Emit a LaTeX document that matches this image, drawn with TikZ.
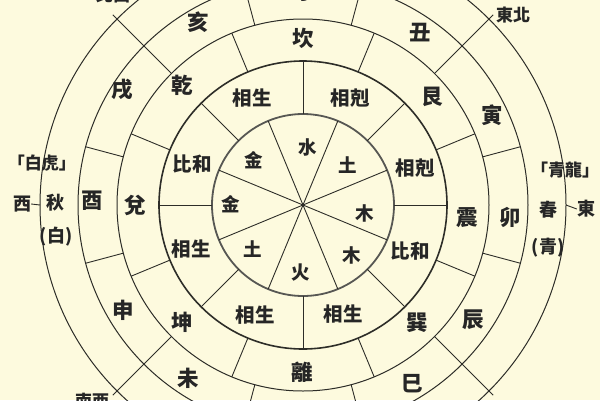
\documentclass[tikz,border=0pt]{standalone}
\usepackage{fontspec}
\newfontfamily\cjk{Noto Sans CJK TC}
\definecolor{bg}{RGB}{253,250,222}
\definecolor{ln}{RGB}{45,45,40}
\begin{document}
\begin{tikzpicture}[x=1pt,y=1pt,
  elem/.style={font=\cjk\bfseries\fontsize{18.5}{18.5}\selectfont, inner sep=0pt, text=black!85},
  rel/.style={font=\cjk\bfseries\fontsize{19.5}{19.5}\selectfont, inner sep=0pt, text=black!85},
  gua/.style={font=\cjk\bfseries\fontsize{21.5}{21.5}\selectfont, inner sep=0pt, text=black!85},
  season/.style={font=\cjk\bfseries\fontsize{18}{18}\selectfont, inner sep=0pt, text=black!85},
  outer/.style={font=\cjk\bfseries\fontsize{17}{17}\selectfont, inner sep=0pt, text=black!85},
  cz/.style={draw=ln!80, line width=1.8pt},
  co/.style={draw=ln, line width=1.6pt},
  cr/.style={draw=ln, line width=1pt},
  div/.style={draw=ln, line width=0.9pt}]
\useasboundingbox (0,0) rectangle (600,-400);
\fill[bg] (0,0) rectangle (600,-400);
\begin{scope}
\clip (0,0) rectangle (600,-400);
\begin{scope}[shift={(303,-205)}]
  \coordinate (O) at (0,0);
  \draw[cz] (O) circle[radius=91];
  \draw[co] (O) circle[radius=144];
  \draw[cr] (O) circle[radius=186];
  \draw[cr] (O) circle[radius=225];
  \draw[cr] (O) circle[radius=263];
  \foreach \a in {22.5,67.5,...,337.5} \draw[div] (O) -- (\a:91);
  \foreach \a in {0,45,...,315} \draw[div] (\a:91) -- (\a:144);
  \foreach \a in {22.5,67.5,...,337.5} \draw[div] (\a:144) -- (\a:186);
  \foreach \a in {15,75,105,165,195,255,285,345} \draw[div] (\a:186) -- (\a:225);
  \foreach \a in {45,135,225,315} \draw[div] (\a:186) -- (\a:269);
  \coordinate (w4) at (180:263);
  \coordinate (e4) at (0:263);
\end{scope}
% elements
\node[elem] (el1) at (308,-147) {水};
\node[elem] (el2) at (348,-165) {土};
\node[elem] (el3) at (365,-213) {木};
\node[elem] (el4) at (352,-255) {木};
\node[elem] (el5) at (301,-273) {火};
\node[elem] (el6) at (253,-249) {土};
\node[elem] (el7) at (231,-204) {金};
\node[elem] (el8) at (254,-160) {金};
% relations
\node[rel] (r1) at (252,-98) {相生};
\node[rel] (r2) at (350,-98) {相剋};
\node[rel] (r3) at (415,-168) {相剋};
\node[rel] (r4) at (410,-251) {比和};
\node[rel] (r5) at (343,-314) {相生};
\node[rel] (r6) at (255,-315) {相生};
\node[rel] (r7) at (191,-249) {相生};
\node[rel] (r8) at (192,-164) {比和};
% trigrams
\node[gua] (g1) at (303,-38) {坎};
\node[gua] (g2) at (432,-97) {艮};
\node[gua] (g3) at (467,-218) {震};
\node[gua] (g4) at (417,-323) {巽};
\node[gua] (g5) at (302,-372) {離};
\node[gua] (g6) at (182,-322) {坤};
\node[gua] (g7) at (135,-205) {兌};
\node[gua] (g8) at (182,-85) {乾};
% branches
\node[gua] (b0) at (306,8) {子};
\node[gua] (b1) at (420,-33) {丑};
\node[gua] (b2) at (492,-115) {寅};
\node[gua] (b3) at (510,-217) {卯};
\node[gua] (b4) at (473,-320) {辰};
\node[gua] (b5) at (412,-384) {巳};
\node[gua] (b7) at (188,-378) {未};
\node[gua] (b8) at (123,-310) {申};
\node[gua] (b9) at (92,-201) {酉};
\node[gua] (b10) at (122,-90) {戌};
\node[gua] (b11) at (198,-22) {亥};
% seasons
\node[outer] (sw1) at (42,-163) {「白虎」};
\node[season] (sw2) at (55,-203) {秋};
\node[season] (sw3) at (56,-237) {(白)};
\node[outer] (se1) at (565,-170) {「青龍」};
\node[season] (se2) at (548,-210) {春};
\node[season] (se3) at (548,-248) {(青)};
% directions
\node[season] (dw) at (22,-204) {西};
\node[season] (de) at (586,-209) {東};
\node[outer] (dne) at (513,-15) {東北};
\node[outer] (dnw) at (113,5) {北西};
\node[outer] (dsw) at (92,-401) {南西};
\draw[div] (w4) -- (dw.east);
\draw[div] (e4) -- (de.west);
\end{scope}
\end{tikzpicture}
\end{document}
